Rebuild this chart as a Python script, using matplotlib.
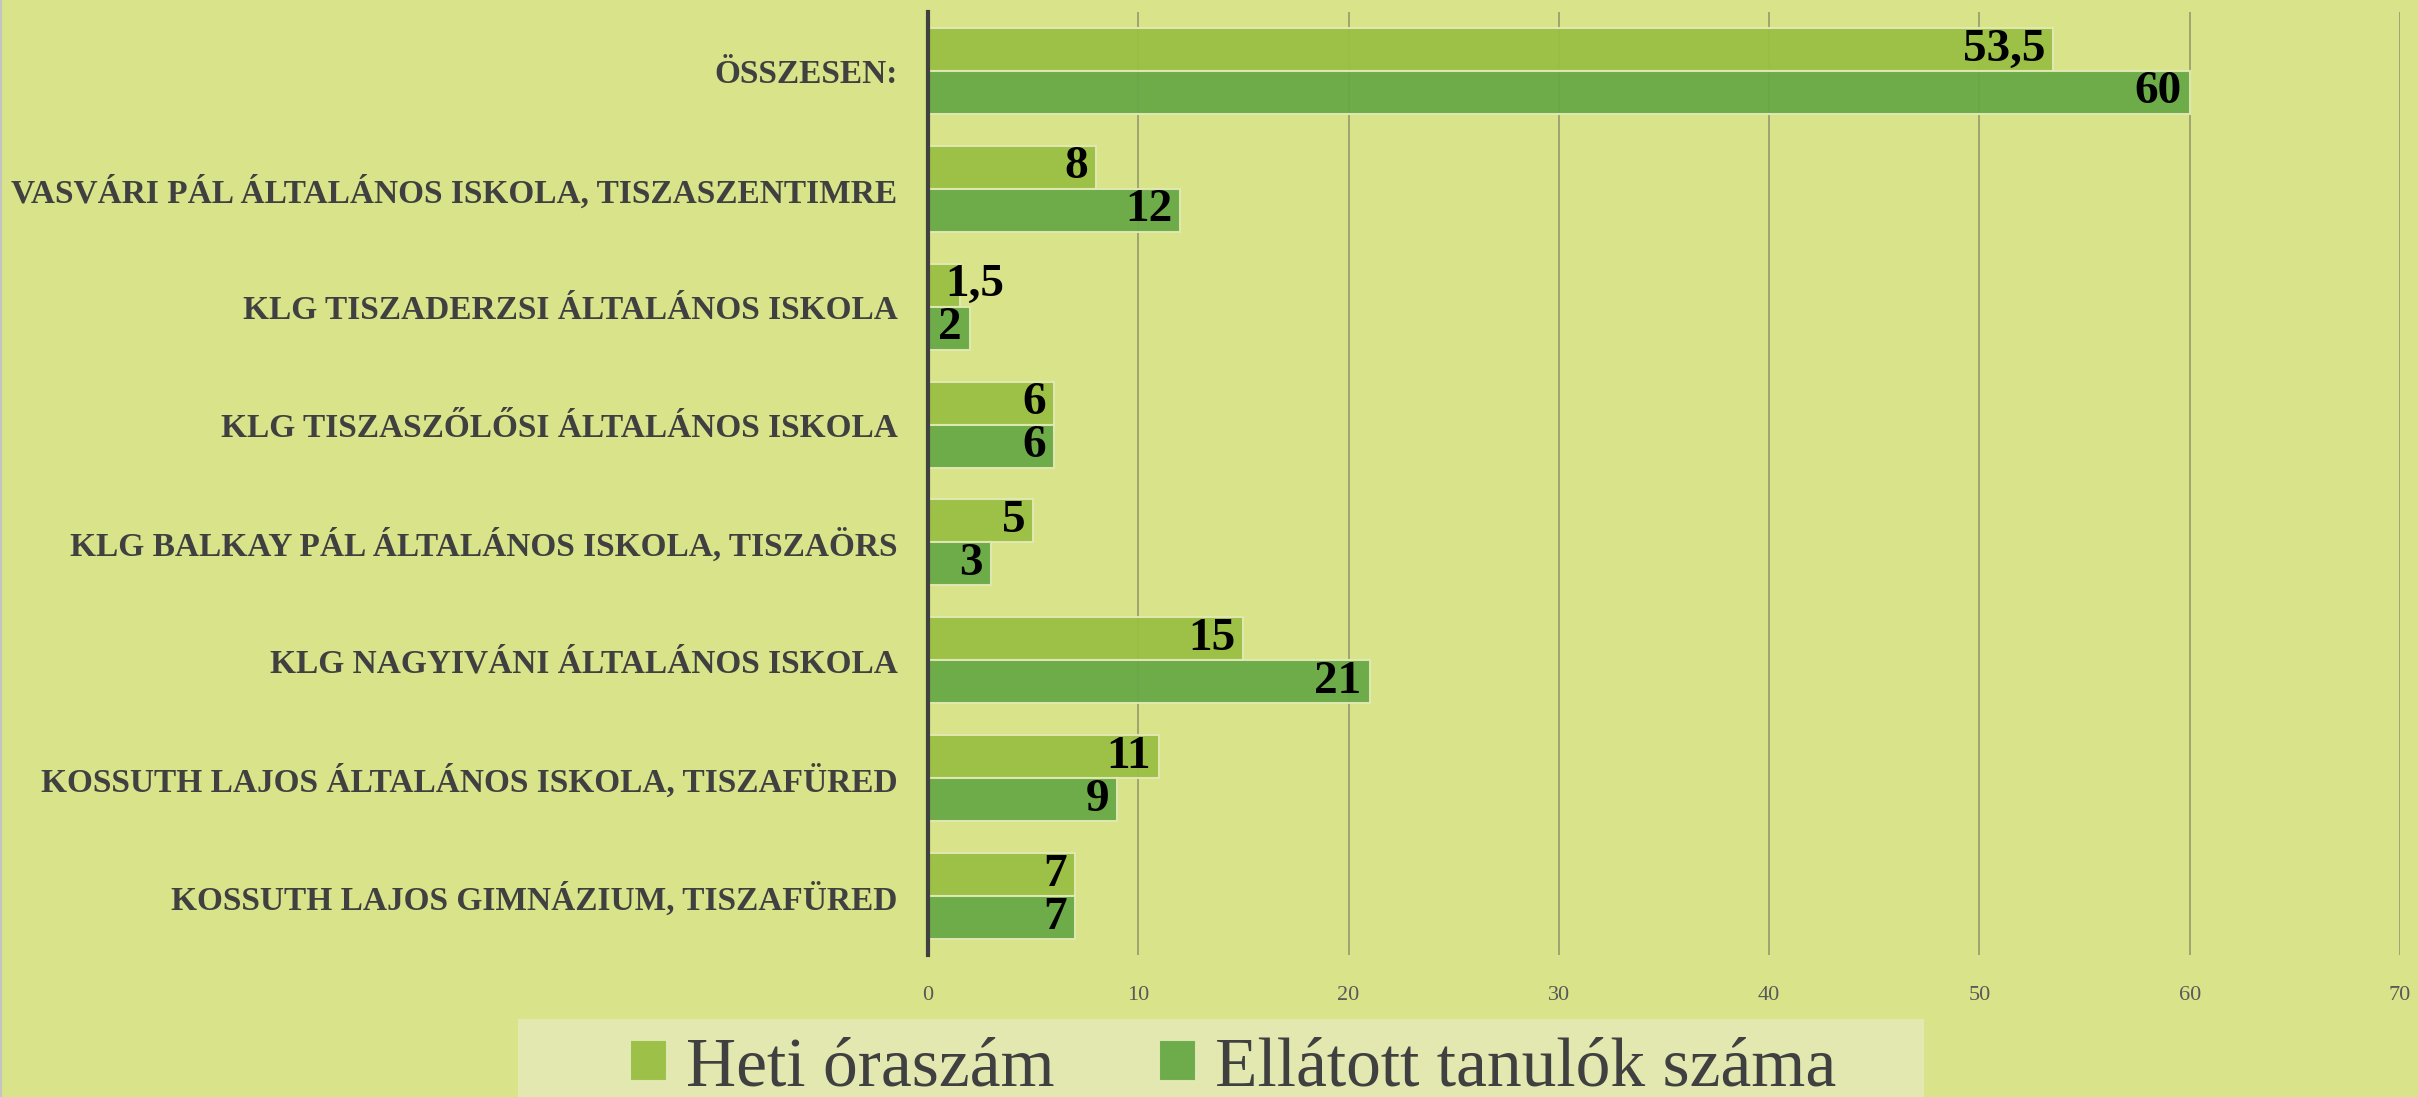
import matplotlib.pyplot as plt
import numpy as np
from matplotlib.patches import Rectangle
from matplotlib.lines import Line2D

# --- data (bottom to top, as drawn) ---
categories = [
    "KOSSUTH LAJOS GIMNÁZIUM, TISZAFÜRED",
    "KOSSUTH LAJOS ÁLTALÁNOS ISKOLA, TISZAFÜRED",
    "KLG NAGYIVÁNI ÁLTALÁNOS ISKOLA",
    "KLG BALKAY PÁL ÁLTALÁNOS ISKOLA, TISZAÖRS",
    "KLG TISZASZŐLŐSI ÁLTALÁNOS ISKOLA",
    "KLG TISZADERZSI ÁLTALÁNOS ISKOLA",
    "VASVÁRI PÁL ÁLTALÁNOS ISKOLA, TISZASZENTIMRE",
    "ÖSSZESEN:",
]
heti_oraszam = [7, 11, 15, 5, 6, 1.5, 8, 53.5]
ellatott_tanulok = [7, 9, 21, 3, 6, 2, 12, 60]
series_names = ["Heti óraszám", "Ellátott tanulók száma"]
x_ticks = [0, 10, 20, 30, 40, 50, 60, 70]

BG = "#d9e38a"
LIGHT = "#9abf43"
DARK = "#68a846"
TXT = "#404040"

plt.rcParams['font.family'] = ['Liberation Serif', 'DejaVu Serif']

fig = plt.figure(figsize=(24.18, 10.97), dpi=100, facecolor=BG)
ax = fig.add_axes([928 / 2418, (1097 - 955) / 1097, (2400 - 928) / 2418, (955 - 12) / 1097])
ax.set_facecolor(BG)

y = np.arange(len(categories))
h = 0.365
bars_top = ax.barh(y + h / 2, heti_oraszam, height=h, color=LIGHT, edgecolor="#e2eab4",
                   linewidth=1.5, alpha=0.95, zorder=3)
bars_bot = ax.barh(y - h / 2, ellatott_tanulok, height=h, color=DARK, edgecolor="#e2eab4",
                   linewidth=1.5, alpha=0.95, zorder=3)

ax.set_xlim(0, 70)
ax.set_ylim(-0.5, len(categories) - 0.5)
ax.set_xticks(x_ticks)
ax.set_xticklabels([str(t) for t in x_ticks], fontsize=16, color="#595959")
ax.set_yticks(y)
ax.set_yticklabels(categories, fontsize=24, fontweight="bold", color=TXT)
ax.tick_params(axis="y", length=0, pad=22)
ax.tick_params(axis="x", length=0, pad=22)

ax.grid(axis="x", color="#9c9f6d", linewidth=1.3, zorder=1)
ax.set_axisbelow(True)
for s in ["top", "right", "bottom"]:
    ax.spines[s].set_visible(False)
ax.spines["left"].set_color("#404040")
ax.spines["left"].set_linewidth(3)
ax.spines["left"].set_zorder(5)

# value labels, inside end of bars (comma as decimal sign)
pad = 0.38
texts = []
for bars, vals in [(bars_top, heti_oraszam), (bars_bot, ellatott_tanulok)]:
    for b, v in zip(bars, vals):
        lab = f"{v:g}".replace(".", ",")
        t = ax.text(v - pad, b.get_y() + b.get_height() / 2, lab, ha="right", va="center",
                    fontsize=34, fontweight="bold", color="black", zorder=6)
        texts.append(t)

# labels wider than a short bar start just right of the axis instead
fig.canvas.draw()
r = fig.canvas.get_renderer()
x0_px = ax.transData.transform((0, 0))[0]
for t in texts:
    bb = t.get_window_extent(r)
    if bb.x0 < x0_px + 10:
        t.set_ha("left")
        t.set_x(0.8)

# thin frame line at the left edge of the image
fig.lines.append(Line2D([0.0004, 0.0004], [0, 1], transform=fig.transFigure,
                        color="#c4c4c4", linewidth=1.5))

# legend with its own box
fig.patches.append(Rectangle((518 / 2418, -0.05), (1924 - 518) / 2418, (1097 - 1019) / 1097 + 0.05,
                             transform=fig.transFigure, facecolor="#e2e8b0", edgecolor="none", zorder=0))
leg = fig.legend([bars_top, bars_bot], series_names, loc="center", bbox_to_anchor=(0.51, 0.026),
                 ncol=2, frameon=False, fontsize=50, handlelength=0.54, handleheight=0.54,
                 handletextpad=0.27, columnspacing=1.5, borderpad=0)
for t in leg.get_texts():
    t.set_color(TXT)

fig.savefig("out.png", dpi=100, facecolor=BG)
